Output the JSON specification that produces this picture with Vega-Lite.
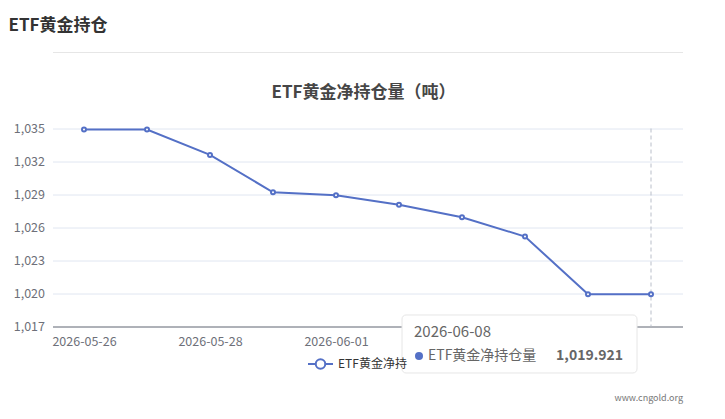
{
  "$schema": "https://vega.github.io/schema/vega-lite/v6.json",
  "width": 630,
  "height": 198,
  "autosize": {"type": "none"},
  "padding": {"left": 52.5, "top": 128.5, "right": 42.5, "bottom": 92.5},
  "background": "#ffffff",
  "config": {"view": {"stroke": null}, "font": "Noto Sans CJK SC"},
  "data": {
    "values": [
      {"date": "2026-05-26", "value": 1034.91, "series": "ETF黄金净持仓量"},
      {"date": "2026-05-27", "value": 1034.9, "series": "ETF黄金净持仓量"},
      {"date": "2026-05-28", "value": 1032.6, "series": "ETF黄金净持仓量"},
      {"date": "2026-05-29", "value": 1029.2, "series": "ETF黄金净持仓量"},
      {"date": "2026-06-01", "value": 1028.93, "series": "ETF黄金净持仓量"},
      {"date": "2026-06-02", "value": 1028.06, "series": "ETF黄金净持仓量"},
      {"date": "2026-06-03", "value": 1026.93, "series": "ETF黄金净持仓量"},
      {"date": "2026-06-04", "value": 1025.18, "series": "ETF黄金净持仓量"},
      {"date": "2026-06-05", "value": 1019.93, "series": "ETF黄金净持仓量"},
      {"date": "2026-06-08", "value": 1019.921, "series": "ETF黄金净持仓量"}
    ]
  },
  "resolve": {"axis": {"x": "independent"}},
  "layer": [
    {
      "transform": [{"filter": "datum.date == '2026-06-08'"}],
      "mark": {"type": "rule", "stroke": "#b9bec9", "strokeDash": [4, 3], "strokeWidth": 1},
      "encoding": {
        "x": {
          "field": "date", "type": "ordinal",
          "scale": {"type": "point", "padding": 0.5},
          "axis": {
            "orient": "bottom",
            "values": ["2026-05-26", "2026-05-28", "2026-06-01"],
            "labelAngle": 0,
            "domainColor": "#6e7079",
            "domainWidth": 1,
            "ticks": false,
            "grid": false,
            "labelColor": "#6e7079",
            "labelFontSize": 12.5,
            "labelPadding": 8.5,
            "title": "www.cngold.org",
            "titleX": 630,
            "titleY": 70.5,
            "titleAlign": "right",
            "titleBaseline": "middle",
            "titleFontSize": 9,
            "titleFontWeight": "normal",
            "titleColor": "#777777",
            "zindex": 0
          }
        }
      }
    },
    {
      "mark": {"type": "line", "strokeWidth": 2},
      "encoding": {
        "x": {
          "field": "date", "type": "ordinal",
          "scale": {"type": "point", "padding": 0.5},
          "axis": {
            "orient": "top",
            "offset": 76.5,
            "domainColor": "#e6e6e6",
            "domainWidth": 1,
            "labels": false,
            "ticks": false,
            "grid": false,
            "title": "ETF黄金净持仓量（吨）",
            "titleX": 310.5,
            "titleY": 40,
            "titleAlign": "center",
            "titleBaseline": "middle",
            "titleFontSize": 17,
            "titleFontWeight": "bold",
            "titleColor": "#464646",
            "zindex": 0
          }
        },
        "y": {
          "field": "value", "type": "quantitative",
          "scale": {"domain": [1017, 1035], "nice": false, "zero": false},
          "axis": {
            "values": [1017, 1020, 1023, 1026, 1029, 1032, 1035],
            "tickCount": 20,
            "format": ",d",
            "domain": false,
            "ticks": false,
            "gridColor": "#e0e6f1",
            "gridWidth": 1,
            "labelColor": "#6e7079",
            "labelFontSize": 12.5,
            "labelPadding": 8,
            "labelOverlap": false,
            "title": "ETF黄金持仓",
            "titleAngle": 0,
            "titleAlign": "left",
            "titleBaseline": "middle",
            "titleX": -44.5,
            "titleY": -103.5,
            "titleFontSize": 17,
            "titleFontWeight": "bold",
            "titleColor": "#333333",
            "zindex": 0
          }
        },
        "color": {
          "field": "series", "type": "nominal",
          "scale": {"range": ["#5470c6"]},
          "legend": {
            "orient": "none",
            "legendX": 254.5,
            "legendY": 222,
            "title": null,
            "padding": 0,
            "symbolType": "M-1,0H-0.38M0.38,0H1M-0.38,0A0.38,0.38,0,1,1,0.38,0A0.38,0.38,0,1,1,-0.38,0Z",
            "symbolSize": 625,
            "symbolStrokeWidth": 2,
            "symbolStrokeColor": "#5470c6",
            "labelFontSize": 12,
            "labelColor": "#333333",
            "labelOffset": 4,
            "labelExpr": "substring(datum.label, 0, 7)"
          }
        }
      }
    },
    {
      "mark": {"type": "point", "filled": true, "fill": "#ffffff", "stroke": "#5470c6", "strokeWidth": 2, "size": 16, "opacity": 1},
      "encoding": {
        "x": {"field": "date", "type": "ordinal", "scale": {"type": "point", "padding": 0.5}, "axis": null},
        "y": {"field": "value", "type": "quantitative"}
      }
    },
    {
      "transform": [{"filter": "datum.date == '2026-06-08'"}],
      "mark": {"type": "rect", "fill": "#ffffff", "stroke": "#e6e6e6", "strokeWidth": 1, "cornerRadius": 4, "xOffset": -249, "x2Offset": -14, "yOffset": 20.6, "y2Offset": 78.6},
      "encoding": {
        "x": {"field": "date", "type": "ordinal", "axis": null},
        "x2": {"field": "date"},
        "y": {"field": "value", "type": "quantitative"},
        "y2": {"field": "value"}
      }
    },
    {
      "transform": [{"filter": "datum.date == '2026-06-08'"}],
      "mark": {"type": "point", "filled": true, "color": "#5470c6", "size": 64, "opacity": 1, "xOffset": -232, "yOffset": 61.6},
      "encoding": {
        "x": {"field": "date", "type": "ordinal", "axis": null},
        "y": {"field": "value", "type": "quantitative"}
      }
    },
    {
      "transform": [{"filter": "datum.date == '2026-06-08'"}],
      "mark": {"type": "text", "align": "left", "baseline": "middle", "dx": -237, "dy": 37.6, "fontSize": 15, "color": "#666666"},
      "encoding": {
        "x": {"field": "date", "type": "ordinal", "axis": null},
        "y": {"field": "value", "type": "quantitative"},
        "text": {"field": "date"}
      }
    },
    {
      "transform": [{"filter": "datum.date == '2026-06-08'"}],
      "mark": {"type": "text", "align": "left", "baseline": "middle", "dx": -223, "dy": 61.6, "fontSize": 14, "color": "#666666"},
      "encoding": {
        "x": {"field": "date", "type": "ordinal", "axis": null},
        "y": {"field": "value", "type": "quantitative"},
        "text": {"field": "series"}
      }
    },
    {
      "transform": [{"filter": "datum.date == '2026-06-08'"}],
      "mark": {"type": "text", "align": "right", "baseline": "middle", "dx": -28, "dy": 61.6, "fontSize": 14, "fontWeight": "bold", "color": "#666666"},
      "encoding": {
        "x": {"field": "date", "type": "ordinal", "axis": null},
        "y": {"field": "value", "type": "quantitative"},
        "text": {"field": "value", "format": ",.3f"}
      }
    }
  ]
}
